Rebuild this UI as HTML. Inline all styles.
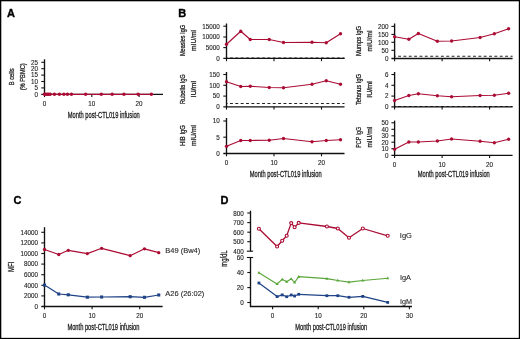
<!DOCTYPE html>
<html><head><meta charset="utf-8"><style>
html,body{margin:0;padding:0;background:#fff;}
body{width:520px;height:339px;overflow:hidden;position:relative;}
svg{position:absolute;left:0;top:0;will-change:transform;}
text{font-family:"Liberation Sans", sans-serif;}
</style></head><body>
<svg width="520" height="339" viewBox="0 0 520 339">
<rect x="0" y="0" width="520" height="1.3" fill="#000"/><rect x="0" y="0" width="1.3" height="339" fill="#000"/><rect x="518.8" y="0" width="1.2" height="339" fill="#000"/><rect x="0" y="337.85" width="520" height="1.15" fill="#000"/>
<text x="7.00" y="16.80" font-size="11" text-anchor="start" font-weight="bold" fill="#000" stroke="#000" stroke-width="0.35">A</text>
<text x="178.30" y="17.10" font-size="11" text-anchor="start" font-weight="bold" fill="#000" stroke="#000" stroke-width="0.35">B</text>
<text x="13.60" y="204.20" font-size="11" text-anchor="start" font-weight="bold" fill="#000" stroke="#000" stroke-width="0.35">C</text>
<text x="220.40" y="204.20" font-size="11" text-anchor="start" font-weight="bold" fill="#000" stroke="#000" stroke-width="0.35">D</text>
<line x1="44.50" y1="59.30" x2="44.50" y2="94.90" stroke="#111" stroke-width="1.35"/>
<line x1="41.30" y1="94.30" x2="163.00" y2="94.30" stroke="#111" stroke-width="1.35"/>
<line x1="41.30" y1="87.90" x2="44.50" y2="87.90" stroke="#111" stroke-width="1.1"/>
<text x="38.10" y="90.24" font-size="6.6" text-anchor="end" font-weight="normal" fill="#1e1e1e" textLength="3.50" lengthAdjust="spacingAndGlyphs" stroke="#1e1e1e" stroke-width="0.12">5</text>
<line x1="41.30" y1="81.50" x2="44.50" y2="81.50" stroke="#111" stroke-width="1.1"/>
<text x="38.10" y="83.84" font-size="6.6" text-anchor="end" font-weight="normal" fill="#1e1e1e" textLength="7.00" lengthAdjust="spacingAndGlyphs" stroke="#1e1e1e" stroke-width="0.12">10</text>
<line x1="41.30" y1="75.10" x2="44.50" y2="75.10" stroke="#111" stroke-width="1.1"/>
<text x="38.10" y="77.44" font-size="6.6" text-anchor="end" font-weight="normal" fill="#1e1e1e" textLength="7.00" lengthAdjust="spacingAndGlyphs" stroke="#1e1e1e" stroke-width="0.12">15</text>
<line x1="41.30" y1="68.70" x2="44.50" y2="68.70" stroke="#111" stroke-width="1.1"/>
<text x="38.10" y="71.04" font-size="6.6" text-anchor="end" font-weight="normal" fill="#1e1e1e" textLength="7.00" lengthAdjust="spacingAndGlyphs" stroke="#1e1e1e" stroke-width="0.12">20</text>
<line x1="41.30" y1="62.30" x2="44.50" y2="62.30" stroke="#111" stroke-width="1.1"/>
<text x="38.10" y="64.64" font-size="6.6" text-anchor="end" font-weight="normal" fill="#1e1e1e" textLength="7.00" lengthAdjust="spacingAndGlyphs" stroke="#1e1e1e" stroke-width="0.12">25</text>
<text x="38.10" y="96.64" font-size="6.6" text-anchor="end" font-weight="normal" fill="#1e1e1e" textLength="3.50" lengthAdjust="spacingAndGlyphs" stroke="#1e1e1e" stroke-width="0.12">0</text>
<line x1="44.50" y1="94.30" x2="44.50" y2="97.10" stroke="#111" stroke-width="1.1"/>
<text x="44.50" y="106.20" font-size="6.6" text-anchor="middle" font-weight="normal" fill="#1e1e1e" textLength="3.50" lengthAdjust="spacingAndGlyphs" stroke="#1e1e1e" stroke-width="0.12">0</text>
<line x1="91.80" y1="94.30" x2="91.80" y2="97.10" stroke="#111" stroke-width="1.1"/>
<text x="91.80" y="106.20" font-size="6.6" text-anchor="middle" font-weight="normal" fill="#1e1e1e" textLength="7.00" lengthAdjust="spacingAndGlyphs" stroke="#1e1e1e" stroke-width="0.12">10</text>
<line x1="139.10" y1="94.30" x2="139.10" y2="97.10" stroke="#111" stroke-width="1.1"/>
<text x="139.10" y="106.20" font-size="6.6" text-anchor="middle" font-weight="normal" fill="#1e1e1e" textLength="7.00" lengthAdjust="spacingAndGlyphs" stroke="#1e1e1e" stroke-width="0.12">20</text>
<text x="103.80" y="118.20" font-size="8.4" text-anchor="middle" font-weight="normal" fill="#1e1e1e" textLength="72.00" lengthAdjust="spacingAndGlyphs" stroke="#1e1e1e" stroke-width="0.28">Month post-CTL019 infusion</text>
<text transform="translate(14.40,76.80) rotate(-90)" font-size="8.0" text-anchor="middle" font-weight="normal" fill="#1e1e1e" textLength="17.00" lengthAdjust="spacingAndGlyphs" stroke="#1e1e1e" stroke-width="0.28">B cells</text>
<text transform="translate(25.40,76.80) rotate(-90)" font-size="8.0" text-anchor="middle" font-weight="normal" fill="#1e1e1e" textLength="27.00" lengthAdjust="spacingAndGlyphs" stroke="#1e1e1e" stroke-width="0.28">(% PBMC)</text>
<line x1="44.50" y1="94.30" x2="151.87" y2="94.30" stroke="#ab0c34" stroke-width="1.35"/>
<circle cx="44.50" cy="94.30" r="1.75" fill="#ab0c34"/>
<circle cx="45.92" cy="94.30" r="1.75" fill="#ab0c34"/>
<circle cx="47.34" cy="94.30" r="1.75" fill="#ab0c34"/>
<circle cx="48.76" cy="94.30" r="1.75" fill="#ab0c34"/>
<circle cx="50.18" cy="94.30" r="1.75" fill="#ab0c34"/>
<circle cx="54.43" cy="94.30" r="1.75" fill="#ab0c34"/>
<circle cx="59.40" cy="94.30" r="1.75" fill="#ab0c34"/>
<circle cx="63.89" cy="94.30" r="1.75" fill="#ab0c34"/>
<circle cx="67.44" cy="94.30" r="1.75" fill="#ab0c34"/>
<circle cx="71.46" cy="94.30" r="1.75" fill="#ab0c34"/>
<circle cx="85.65" cy="94.30" r="1.75" fill="#ab0c34"/>
<circle cx="101.26" cy="94.30" r="1.75" fill="#ab0c34"/>
<circle cx="112.14" cy="94.30" r="1.75" fill="#ab0c34"/>
<circle cx="123.96" cy="94.30" r="1.75" fill="#ab0c34"/>
<circle cx="138.15" cy="94.30" r="1.75" fill="#ab0c34"/>
<circle cx="151.40" cy="94.30" r="1.75" fill="#ab0c34"/>
<line x1="226.50" y1="58.10" x2="344.50" y2="58.10" stroke="#222" stroke-width="1.05" stroke-dasharray="2.9,2.45" stroke-dashoffset="1.85"/>
<line x1="226.50" y1="23.50" x2="226.50" y2="59.00" stroke="#111" stroke-width="1.35"/>
<line x1="223.30" y1="26.20" x2="226.50" y2="26.20" stroke="#111" stroke-width="1.1"/>
<text x="219.80" y="28.54" font-size="6.6" text-anchor="end" font-weight="normal" fill="#1e1e1e" textLength="17.50" lengthAdjust="spacingAndGlyphs" stroke="#1e1e1e" stroke-width="0.12">15000</text>
<line x1="223.30" y1="37.00" x2="226.50" y2="37.00" stroke="#111" stroke-width="1.1"/>
<text x="219.80" y="39.34" font-size="6.6" text-anchor="end" font-weight="normal" fill="#1e1e1e" textLength="17.50" lengthAdjust="spacingAndGlyphs" stroke="#1e1e1e" stroke-width="0.12">10000</text>
<line x1="223.30" y1="47.60" x2="226.50" y2="47.60" stroke="#111" stroke-width="1.1"/>
<text x="219.80" y="49.94" font-size="6.6" text-anchor="end" font-weight="normal" fill="#1e1e1e" textLength="14.00" lengthAdjust="spacingAndGlyphs" stroke="#1e1e1e" stroke-width="0.12">5000</text>
<text x="219.80" y="60.74" font-size="6.6" text-anchor="end" font-weight="normal" fill="#1e1e1e" textLength="3.50" lengthAdjust="spacingAndGlyphs" stroke="#1e1e1e" stroke-width="0.12">0</text>
<line x1="223.30" y1="58.40" x2="344.50" y2="58.40" stroke="#111" stroke-width="1.35"/>
<line x1="226.50" y1="58.40" x2="226.50" y2="61.20" stroke="#111" stroke-width="1.1"/>
<line x1="274.00" y1="58.40" x2="274.00" y2="61.20" stroke="#111" stroke-width="1.1"/>
<line x1="321.50" y1="58.40" x2="321.50" y2="61.20" stroke="#111" stroke-width="1.1"/>
<polyline points="226.50,44.25 240.75,31.25 250.25,39.50 269.25,39.50 283.50,42.50 312.00,42.25 326.25,42.75 340.50,33.75" fill="none" stroke="#ab0c34" stroke-width="1.2" stroke-linejoin="round"/>
<circle cx="226.50" cy="44.25" r="1.65" fill="#ab0c34"/>
<circle cx="240.75" cy="31.25" r="1.65" fill="#ab0c34"/>
<circle cx="250.25" cy="39.50" r="1.65" fill="#ab0c34"/>
<circle cx="269.25" cy="39.50" r="1.65" fill="#ab0c34"/>
<circle cx="283.50" cy="42.50" r="1.65" fill="#ab0c34"/>
<circle cx="312.00" cy="42.25" r="1.65" fill="#ab0c34"/>
<circle cx="326.25" cy="42.75" r="1.65" fill="#ab0c34"/>
<circle cx="340.50" cy="33.75" r="1.65" fill="#ab0c34"/>
<text transform="translate(184.70,40.50) rotate(-90)" font-size="7.1" text-anchor="middle" font-weight="normal" fill="#1e1e1e" textLength="31.10" lengthAdjust="spacingAndGlyphs" stroke="#1e1e1e" stroke-width="0.28">Measles IgG</text>
<text transform="translate(196.40,40.50) rotate(-90)" font-size="7.1" text-anchor="middle" font-weight="normal" fill="#1e1e1e" textLength="20.80" lengthAdjust="spacingAndGlyphs" stroke="#1e1e1e" stroke-width="0.28">mIU/ml</text>
<line x1="226.50" y1="103.50" x2="344.50" y2="103.50" stroke="#222" stroke-width="1.05" stroke-dasharray="2.9,2.45" stroke-dashoffset="1.85"/>
<line x1="226.50" y1="72.00" x2="226.50" y2="107.40" stroke="#111" stroke-width="1.35"/>
<line x1="223.30" y1="74.50" x2="226.50" y2="74.50" stroke="#111" stroke-width="1.1"/>
<text x="219.80" y="76.84" font-size="6.6" text-anchor="end" font-weight="normal" fill="#1e1e1e" textLength="10.50" lengthAdjust="spacingAndGlyphs" stroke="#1e1e1e" stroke-width="0.12">150</text>
<line x1="223.30" y1="85.30" x2="226.50" y2="85.30" stroke="#111" stroke-width="1.1"/>
<text x="219.80" y="87.64" font-size="6.6" text-anchor="end" font-weight="normal" fill="#1e1e1e" textLength="10.50" lengthAdjust="spacingAndGlyphs" stroke="#1e1e1e" stroke-width="0.12">100</text>
<line x1="223.30" y1="96.10" x2="226.50" y2="96.10" stroke="#111" stroke-width="1.1"/>
<text x="219.80" y="98.44" font-size="6.6" text-anchor="end" font-weight="normal" fill="#1e1e1e" textLength="7.00" lengthAdjust="spacingAndGlyphs" stroke="#1e1e1e" stroke-width="0.12">50</text>
<text x="219.80" y="109.14" font-size="6.6" text-anchor="end" font-weight="normal" fill="#1e1e1e" textLength="3.50" lengthAdjust="spacingAndGlyphs" stroke="#1e1e1e" stroke-width="0.12">0</text>
<line x1="223.30" y1="106.80" x2="344.50" y2="106.80" stroke="#111" stroke-width="1.35"/>
<line x1="226.50" y1="106.80" x2="226.50" y2="109.60" stroke="#111" stroke-width="1.1"/>
<line x1="274.00" y1="106.80" x2="274.00" y2="109.60" stroke="#111" stroke-width="1.1"/>
<line x1="321.50" y1="106.80" x2="321.50" y2="109.60" stroke="#111" stroke-width="1.1"/>
<polyline points="226.50,81.75 240.75,86.50 250.25,86.25 269.25,87.50 283.50,87.75 312.00,84.25 326.25,80.75 340.50,84.25" fill="none" stroke="#ab0c34" stroke-width="1.2" stroke-linejoin="round"/>
<circle cx="226.50" cy="81.75" r="1.65" fill="#ab0c34"/>
<circle cx="240.75" cy="86.50" r="1.65" fill="#ab0c34"/>
<circle cx="250.25" cy="86.25" r="1.65" fill="#ab0c34"/>
<circle cx="269.25" cy="87.50" r="1.65" fill="#ab0c34"/>
<circle cx="283.50" cy="87.75" r="1.65" fill="#ab0c34"/>
<circle cx="312.00" cy="84.25" r="1.65" fill="#ab0c34"/>
<circle cx="326.25" cy="80.75" r="1.65" fill="#ab0c34"/>
<circle cx="340.50" cy="84.25" r="1.65" fill="#ab0c34"/>
<text transform="translate(184.70,89.20) rotate(-90)" font-size="7.1" text-anchor="middle" font-weight="normal" fill="#1e1e1e" textLength="29.70" lengthAdjust="spacingAndGlyphs" stroke="#1e1e1e" stroke-width="0.28">Rubella IgG</text>
<text transform="translate(195.80,89.20) rotate(-90)" font-size="7.1" text-anchor="middle" font-weight="normal" fill="#1e1e1e" textLength="16.60" lengthAdjust="spacingAndGlyphs" stroke="#1e1e1e" stroke-width="0.28">IU/ml</text>
<line x1="226.50" y1="118.00" x2="226.50" y2="154.10" stroke="#111" stroke-width="1.35"/>
<line x1="223.30" y1="121.00" x2="226.50" y2="121.00" stroke="#111" stroke-width="1.1"/>
<text x="219.80" y="123.34" font-size="6.6" text-anchor="end" font-weight="normal" fill="#1e1e1e" textLength="7.00" lengthAdjust="spacingAndGlyphs" stroke="#1e1e1e" stroke-width="0.12">10</text>
<line x1="223.30" y1="137.20" x2="226.50" y2="137.20" stroke="#111" stroke-width="1.1"/>
<text x="219.80" y="139.54" font-size="6.6" text-anchor="end" font-weight="normal" fill="#1e1e1e" textLength="3.50" lengthAdjust="spacingAndGlyphs" stroke="#1e1e1e" stroke-width="0.12">5</text>
<text x="219.80" y="155.84" font-size="6.6" text-anchor="end" font-weight="normal" fill="#1e1e1e" textLength="3.50" lengthAdjust="spacingAndGlyphs" stroke="#1e1e1e" stroke-width="0.12">0</text>
<line x1="223.30" y1="153.50" x2="344.50" y2="153.50" stroke="#111" stroke-width="1.35"/>
<line x1="226.50" y1="153.50" x2="226.50" y2="156.30" stroke="#111" stroke-width="1.1"/>
<text x="226.50" y="164.80" font-size="6.6" text-anchor="middle" font-weight="normal" fill="#1e1e1e" textLength="3.50" lengthAdjust="spacingAndGlyphs" stroke="#1e1e1e" stroke-width="0.12">0</text>
<line x1="274.00" y1="153.50" x2="274.00" y2="156.30" stroke="#111" stroke-width="1.1"/>
<text x="274.00" y="164.80" font-size="6.6" text-anchor="middle" font-weight="normal" fill="#1e1e1e" textLength="7.00" lengthAdjust="spacingAndGlyphs" stroke="#1e1e1e" stroke-width="0.12">10</text>
<line x1="321.50" y1="153.50" x2="321.50" y2="156.30" stroke="#111" stroke-width="1.1"/>
<text x="321.50" y="164.80" font-size="6.6" text-anchor="middle" font-weight="normal" fill="#1e1e1e" textLength="7.00" lengthAdjust="spacingAndGlyphs" stroke="#1e1e1e" stroke-width="0.12">20</text>
<polyline points="226.50,146.30 240.75,140.50 250.25,140.50 269.25,140.25 283.50,138.50 312.00,141.75 326.25,140.50 340.50,139.75" fill="none" stroke="#ab0c34" stroke-width="1.2" stroke-linejoin="round"/>
<circle cx="226.50" cy="146.30" r="1.65" fill="#ab0c34"/>
<circle cx="240.75" cy="140.50" r="1.65" fill="#ab0c34"/>
<circle cx="250.25" cy="140.50" r="1.65" fill="#ab0c34"/>
<circle cx="269.25" cy="140.25" r="1.65" fill="#ab0c34"/>
<circle cx="283.50" cy="138.50" r="1.65" fill="#ab0c34"/>
<circle cx="312.00" cy="141.75" r="1.65" fill="#ab0c34"/>
<circle cx="326.25" cy="140.50" r="1.65" fill="#ab0c34"/>
<circle cx="340.50" cy="139.75" r="1.65" fill="#ab0c34"/>
<text transform="translate(184.80,135.60) rotate(-90)" font-size="7.1" text-anchor="middle" font-weight="normal" fill="#1e1e1e" textLength="20.90" lengthAdjust="spacingAndGlyphs" stroke="#1e1e1e" stroke-width="0.28">HIB IgG</text>
<text transform="translate(196.00,135.60) rotate(-90)" font-size="7.1" text-anchor="middle" font-weight="normal" fill="#1e1e1e" textLength="21.00" lengthAdjust="spacingAndGlyphs" stroke="#1e1e1e" stroke-width="0.28">mIU/ml</text>
<text x="285.70" y="177.00" font-size="8.4" text-anchor="middle" font-weight="normal" fill="#1e1e1e" textLength="72.00" lengthAdjust="spacingAndGlyphs" stroke="#1e1e1e" stroke-width="0.28">Month post-CTL019 infusion</text>
<line x1="394.60" y1="56.20" x2="512.60" y2="56.20" stroke="#222" stroke-width="1.05" stroke-dasharray="2.9,2.45" stroke-dashoffset="1.85"/>
<line x1="394.60" y1="23.50" x2="394.60" y2="59.10" stroke="#111" stroke-width="1.35"/>
<line x1="391.40" y1="26.40" x2="394.60" y2="26.40" stroke="#111" stroke-width="1.1"/>
<text x="388.40" y="28.74" font-size="6.6" text-anchor="end" font-weight="normal" fill="#1e1e1e" textLength="10.50" lengthAdjust="spacingAndGlyphs" stroke="#1e1e1e" stroke-width="0.12">200</text>
<line x1="391.40" y1="34.40" x2="394.60" y2="34.40" stroke="#111" stroke-width="1.1"/>
<text x="388.40" y="36.74" font-size="6.6" text-anchor="end" font-weight="normal" fill="#1e1e1e" textLength="10.50" lengthAdjust="spacingAndGlyphs" stroke="#1e1e1e" stroke-width="0.12">150</text>
<line x1="391.40" y1="42.30" x2="394.60" y2="42.30" stroke="#111" stroke-width="1.1"/>
<text x="388.40" y="44.64" font-size="6.6" text-anchor="end" font-weight="normal" fill="#1e1e1e" textLength="10.50" lengthAdjust="spacingAndGlyphs" stroke="#1e1e1e" stroke-width="0.12">100</text>
<line x1="391.40" y1="50.30" x2="394.60" y2="50.30" stroke="#111" stroke-width="1.1"/>
<text x="388.40" y="52.64" font-size="6.6" text-anchor="end" font-weight="normal" fill="#1e1e1e" textLength="7.00" lengthAdjust="spacingAndGlyphs" stroke="#1e1e1e" stroke-width="0.12">50</text>
<text x="388.40" y="60.84" font-size="6.6" text-anchor="end" font-weight="normal" fill="#1e1e1e" textLength="3.50" lengthAdjust="spacingAndGlyphs" stroke="#1e1e1e" stroke-width="0.12">0</text>
<line x1="391.40" y1="58.50" x2="512.60" y2="58.50" stroke="#111" stroke-width="1.35"/>
<line x1="394.60" y1="58.50" x2="394.60" y2="61.30" stroke="#111" stroke-width="1.1"/>
<line x1="442.10" y1="58.50" x2="442.10" y2="61.30" stroke="#111" stroke-width="1.1"/>
<line x1="489.60" y1="58.50" x2="489.60" y2="61.30" stroke="#111" stroke-width="1.1"/>
<polyline points="394.60,36.75 408.85,39.25 418.35,33.50 437.35,41.25 451.60,41.00 480.10,37.50 494.35,33.75 508.60,28.75" fill="none" stroke="#ab0c34" stroke-width="1.2" stroke-linejoin="round"/>
<circle cx="394.60" cy="36.75" r="1.65" fill="#ab0c34"/>
<circle cx="408.85" cy="39.25" r="1.65" fill="#ab0c34"/>
<circle cx="418.35" cy="33.50" r="1.65" fill="#ab0c34"/>
<circle cx="437.35" cy="41.25" r="1.65" fill="#ab0c34"/>
<circle cx="451.60" cy="41.00" r="1.65" fill="#ab0c34"/>
<circle cx="480.10" cy="37.50" r="1.65" fill="#ab0c34"/>
<circle cx="494.35" cy="33.75" r="1.65" fill="#ab0c34"/>
<circle cx="508.60" cy="28.75" r="1.65" fill="#ab0c34"/>
<text transform="translate(360.90,41.00) rotate(-90)" font-size="7.1" text-anchor="middle" font-weight="normal" fill="#1e1e1e" textLength="30.10" lengthAdjust="spacingAndGlyphs" stroke="#1e1e1e" stroke-width="0.28">Mumps IgG</text>
<text transform="translate(371.90,41.00) rotate(-90)" font-size="7.1" text-anchor="middle" font-weight="normal" fill="#1e1e1e" textLength="20.80" lengthAdjust="spacingAndGlyphs" stroke="#1e1e1e" stroke-width="0.28">mIU/ml</text>
<line x1="394.60" y1="106.40" x2="512.60" y2="106.40" stroke="#222" stroke-width="1.05" stroke-dasharray="2.9,2.45" stroke-dashoffset="1.85"/>
<line x1="394.60" y1="72.00" x2="394.60" y2="107.40" stroke="#111" stroke-width="1.35"/>
<line x1="391.40" y1="74.50" x2="394.60" y2="74.50" stroke="#111" stroke-width="1.1"/>
<text x="388.40" y="76.84" font-size="6.6" text-anchor="end" font-weight="normal" fill="#1e1e1e" textLength="3.50" lengthAdjust="spacingAndGlyphs" stroke="#1e1e1e" stroke-width="0.12">6</text>
<line x1="391.40" y1="85.30" x2="394.60" y2="85.30" stroke="#111" stroke-width="1.1"/>
<text x="388.40" y="87.64" font-size="6.6" text-anchor="end" font-weight="normal" fill="#1e1e1e" textLength="3.50" lengthAdjust="spacingAndGlyphs" stroke="#1e1e1e" stroke-width="0.12">4</text>
<line x1="391.40" y1="96.10" x2="394.60" y2="96.10" stroke="#111" stroke-width="1.1"/>
<text x="388.40" y="98.44" font-size="6.6" text-anchor="end" font-weight="normal" fill="#1e1e1e" textLength="3.50" lengthAdjust="spacingAndGlyphs" stroke="#1e1e1e" stroke-width="0.12">2</text>
<text x="388.40" y="109.14" font-size="6.6" text-anchor="end" font-weight="normal" fill="#1e1e1e" textLength="3.50" lengthAdjust="spacingAndGlyphs" stroke="#1e1e1e" stroke-width="0.12">0</text>
<line x1="391.40" y1="106.80" x2="512.60" y2="106.80" stroke="#111" stroke-width="1.35"/>
<line x1="394.60" y1="106.80" x2="394.60" y2="109.60" stroke="#111" stroke-width="1.1"/>
<line x1="442.10" y1="106.80" x2="442.10" y2="109.60" stroke="#111" stroke-width="1.1"/>
<line x1="489.60" y1="106.80" x2="489.60" y2="109.60" stroke="#111" stroke-width="1.1"/>
<polyline points="394.60,100.50 408.85,95.50 418.35,93.75 437.35,95.75 451.60,96.75 480.10,95.50 494.35,95.25 508.60,93.25" fill="none" stroke="#ab0c34" stroke-width="1.2" stroke-linejoin="round"/>
<circle cx="394.60" cy="100.50" r="1.65" fill="#ab0c34"/>
<circle cx="408.85" cy="95.50" r="1.65" fill="#ab0c34"/>
<circle cx="418.35" cy="93.75" r="1.65" fill="#ab0c34"/>
<circle cx="437.35" cy="95.75" r="1.65" fill="#ab0c34"/>
<circle cx="451.60" cy="96.75" r="1.65" fill="#ab0c34"/>
<circle cx="480.10" cy="95.50" r="1.65" fill="#ab0c34"/>
<circle cx="494.35" cy="95.25" r="1.65" fill="#ab0c34"/>
<circle cx="508.60" cy="93.25" r="1.65" fill="#ab0c34"/>
<text transform="translate(360.60,89.50) rotate(-90)" font-size="7.1" text-anchor="middle" font-weight="normal" fill="#1e1e1e" textLength="31.10" lengthAdjust="spacingAndGlyphs" stroke="#1e1e1e" stroke-width="0.28">Tetanus IgG</text>
<text transform="translate(371.60,89.50) rotate(-90)" font-size="7.1" text-anchor="middle" font-weight="normal" fill="#1e1e1e" textLength="16.60" lengthAdjust="spacingAndGlyphs" stroke="#1e1e1e" stroke-width="0.28">IU/ml</text>
<line x1="394.60" y1="120.60" x2="394.60" y2="155.90" stroke="#111" stroke-width="1.35"/>
<line x1="391.40" y1="122.80" x2="394.60" y2="122.80" stroke="#111" stroke-width="1.1"/>
<text x="388.40" y="125.14" font-size="6.6" text-anchor="end" font-weight="normal" fill="#1e1e1e" textLength="7.00" lengthAdjust="spacingAndGlyphs" stroke="#1e1e1e" stroke-width="0.12">50</text>
<line x1="391.40" y1="129.30" x2="394.60" y2="129.30" stroke="#111" stroke-width="1.1"/>
<text x="388.40" y="131.64" font-size="6.6" text-anchor="end" font-weight="normal" fill="#1e1e1e" textLength="7.00" lengthAdjust="spacingAndGlyphs" stroke="#1e1e1e" stroke-width="0.12">40</text>
<line x1="391.40" y1="135.80" x2="394.60" y2="135.80" stroke="#111" stroke-width="1.1"/>
<text x="388.40" y="138.14" font-size="6.6" text-anchor="end" font-weight="normal" fill="#1e1e1e" textLength="7.00" lengthAdjust="spacingAndGlyphs" stroke="#1e1e1e" stroke-width="0.12">30</text>
<line x1="391.40" y1="142.20" x2="394.60" y2="142.20" stroke="#111" stroke-width="1.1"/>
<text x="388.40" y="144.54" font-size="6.6" text-anchor="end" font-weight="normal" fill="#1e1e1e" textLength="7.00" lengthAdjust="spacingAndGlyphs" stroke="#1e1e1e" stroke-width="0.12">20</text>
<line x1="391.40" y1="148.70" x2="394.60" y2="148.70" stroke="#111" stroke-width="1.1"/>
<text x="388.40" y="151.04" font-size="6.6" text-anchor="end" font-weight="normal" fill="#1e1e1e" textLength="7.00" lengthAdjust="spacingAndGlyphs" stroke="#1e1e1e" stroke-width="0.12">10</text>
<text x="388.40" y="157.64" font-size="6.6" text-anchor="end" font-weight="normal" fill="#1e1e1e" textLength="3.50" lengthAdjust="spacingAndGlyphs" stroke="#1e1e1e" stroke-width="0.12">0</text>
<line x1="391.40" y1="155.30" x2="512.60" y2="155.30" stroke="#111" stroke-width="1.35"/>
<line x1="394.60" y1="155.30" x2="394.60" y2="158.10" stroke="#111" stroke-width="1.1"/>
<text x="394.60" y="166.60" font-size="6.6" text-anchor="middle" font-weight="normal" fill="#1e1e1e" textLength="3.50" lengthAdjust="spacingAndGlyphs" stroke="#1e1e1e" stroke-width="0.12">0</text>
<line x1="442.10" y1="155.30" x2="442.10" y2="158.10" stroke="#111" stroke-width="1.1"/>
<text x="442.10" y="166.60" font-size="6.6" text-anchor="middle" font-weight="normal" fill="#1e1e1e" textLength="7.00" lengthAdjust="spacingAndGlyphs" stroke="#1e1e1e" stroke-width="0.12">10</text>
<line x1="489.60" y1="155.30" x2="489.60" y2="158.10" stroke="#111" stroke-width="1.1"/>
<text x="489.60" y="166.60" font-size="6.6" text-anchor="middle" font-weight="normal" fill="#1e1e1e" textLength="7.00" lengthAdjust="spacingAndGlyphs" stroke="#1e1e1e" stroke-width="0.12">20</text>
<polyline points="394.60,149.25 408.85,142.00 418.35,142.00 437.35,141.00 451.60,139.00 480.10,141.25 494.35,142.75 508.60,139.25" fill="none" stroke="#ab0c34" stroke-width="1.2" stroke-linejoin="round"/>
<circle cx="394.60" cy="149.25" r="1.65" fill="#ab0c34"/>
<circle cx="408.85" cy="142.00" r="1.65" fill="#ab0c34"/>
<circle cx="418.35" cy="142.00" r="1.65" fill="#ab0c34"/>
<circle cx="437.35" cy="141.00" r="1.65" fill="#ab0c34"/>
<circle cx="451.60" cy="139.00" r="1.65" fill="#ab0c34"/>
<circle cx="480.10" cy="141.25" r="1.65" fill="#ab0c34"/>
<circle cx="494.35" cy="142.75" r="1.65" fill="#ab0c34"/>
<circle cx="508.60" cy="139.25" r="1.65" fill="#ab0c34"/>
<text transform="translate(361.00,137.30) rotate(-90)" font-size="7.1" text-anchor="middle" font-weight="normal" fill="#1e1e1e" textLength="20.90" lengthAdjust="spacingAndGlyphs" stroke="#1e1e1e" stroke-width="0.28">PCP IgG</text>
<text transform="translate(371.60,137.30) rotate(-90)" font-size="7.1" text-anchor="middle" font-weight="normal" fill="#1e1e1e" textLength="20.60" lengthAdjust="spacingAndGlyphs" stroke="#1e1e1e" stroke-width="0.28">mIU/ml</text>
<text x="453.80" y="177.00" font-size="8.4" text-anchor="middle" font-weight="normal" fill="#1e1e1e" textLength="72.00" lengthAdjust="spacingAndGlyphs" stroke="#1e1e1e" stroke-width="0.28">Month post-CTL019 infusion</text>
<line x1="44.50" y1="227.20" x2="44.50" y2="307.10" stroke="#111" stroke-width="1.35"/>
<line x1="41.30" y1="295.90" x2="44.50" y2="295.90" stroke="#111" stroke-width="1.1"/>
<text x="37.90" y="298.24" font-size="6.6" text-anchor="end" font-weight="normal" fill="#1e1e1e" textLength="14.00" lengthAdjust="spacingAndGlyphs" stroke="#1e1e1e" stroke-width="0.12">2000</text>
<line x1="41.30" y1="285.30" x2="44.50" y2="285.30" stroke="#111" stroke-width="1.1"/>
<text x="37.90" y="287.64" font-size="6.6" text-anchor="end" font-weight="normal" fill="#1e1e1e" textLength="14.00" lengthAdjust="spacingAndGlyphs" stroke="#1e1e1e" stroke-width="0.12">4000</text>
<line x1="41.30" y1="274.70" x2="44.50" y2="274.70" stroke="#111" stroke-width="1.1"/>
<text x="37.90" y="277.04" font-size="6.6" text-anchor="end" font-weight="normal" fill="#1e1e1e" textLength="14.00" lengthAdjust="spacingAndGlyphs" stroke="#1e1e1e" stroke-width="0.12">6000</text>
<line x1="41.30" y1="264.10" x2="44.50" y2="264.10" stroke="#111" stroke-width="1.1"/>
<text x="37.90" y="266.44" font-size="6.6" text-anchor="end" font-weight="normal" fill="#1e1e1e" textLength="14.00" lengthAdjust="spacingAndGlyphs" stroke="#1e1e1e" stroke-width="0.12">8000</text>
<line x1="41.30" y1="253.50" x2="44.50" y2="253.50" stroke="#111" stroke-width="1.1"/>
<text x="37.90" y="255.84" font-size="6.6" text-anchor="end" font-weight="normal" fill="#1e1e1e" textLength="17.50" lengthAdjust="spacingAndGlyphs" stroke="#1e1e1e" stroke-width="0.12">10000</text>
<line x1="41.30" y1="242.90" x2="44.50" y2="242.90" stroke="#111" stroke-width="1.1"/>
<text x="37.90" y="245.24" font-size="6.6" text-anchor="end" font-weight="normal" fill="#1e1e1e" textLength="17.50" lengthAdjust="spacingAndGlyphs" stroke="#1e1e1e" stroke-width="0.12">12000</text>
<line x1="41.30" y1="232.30" x2="44.50" y2="232.30" stroke="#111" stroke-width="1.1"/>
<text x="37.90" y="234.64" font-size="6.6" text-anchor="end" font-weight="normal" fill="#1e1e1e" textLength="17.50" lengthAdjust="spacingAndGlyphs" stroke="#1e1e1e" stroke-width="0.12">14000</text>
<text x="37.90" y="308.84" font-size="6.6" text-anchor="end" font-weight="normal" fill="#1e1e1e" textLength="3.50" lengthAdjust="spacingAndGlyphs" stroke="#1e1e1e" stroke-width="0.12">0</text>
<line x1="41.30" y1="306.50" x2="162.60" y2="306.50" stroke="#111" stroke-width="1.35"/>
<line x1="44.50" y1="306.50" x2="44.50" y2="309.30" stroke="#111" stroke-width="1.1"/>
<text x="44.50" y="318.00" font-size="6.6" text-anchor="middle" font-weight="normal" fill="#1e1e1e" textLength="3.50" lengthAdjust="spacingAndGlyphs" stroke="#1e1e1e" stroke-width="0.12">0</text>
<line x1="92.10" y1="306.50" x2="92.10" y2="309.30" stroke="#111" stroke-width="1.1"/>
<text x="92.10" y="318.00" font-size="6.6" text-anchor="middle" font-weight="normal" fill="#1e1e1e" textLength="7.00" lengthAdjust="spacingAndGlyphs" stroke="#1e1e1e" stroke-width="0.12">10</text>
<line x1="139.70" y1="306.50" x2="139.70" y2="309.30" stroke="#111" stroke-width="1.1"/>
<text x="139.70" y="318.00" font-size="6.6" text-anchor="middle" font-weight="normal" fill="#1e1e1e" textLength="7.00" lengthAdjust="spacingAndGlyphs" stroke="#1e1e1e" stroke-width="0.12">20</text>
<text x="103.40" y="329.90" font-size="8.4" text-anchor="middle" font-weight="normal" fill="#1e1e1e" textLength="72.00" lengthAdjust="spacingAndGlyphs" stroke="#1e1e1e" stroke-width="0.28">Month post-CTL019 infusion</text>
<text transform="translate(14.00,266.90) rotate(-90)" font-size="8.4" text-anchor="middle" font-weight="normal" fill="#1e1e1e" textLength="10.20" lengthAdjust="spacingAndGlyphs" stroke="#1e1e1e" stroke-width="0.28">MFI</text>
<polyline points="44.50,249.50 58.78,254.50 68.30,250.30 87.34,253.60 101.62,248.30 130.18,255.70 144.46,248.80 158.74,252.70" fill="none" stroke="#ab0c34" stroke-width="1.2" stroke-linejoin="round"/>
<circle cx="44.50" cy="249.50" r="1.65" fill="#ab0c34"/>
<circle cx="58.78" cy="254.50" r="1.65" fill="#ab0c34"/>
<circle cx="68.30" cy="250.30" r="1.65" fill="#ab0c34"/>
<circle cx="87.34" cy="253.60" r="1.65" fill="#ab0c34"/>
<circle cx="101.62" cy="248.30" r="1.65" fill="#ab0c34"/>
<circle cx="130.18" cy="255.70" r="1.65" fill="#ab0c34"/>
<circle cx="144.46" cy="248.80" r="1.65" fill="#ab0c34"/>
<circle cx="158.74" cy="252.70" r="1.65" fill="#ab0c34"/>
<polyline points="44.50,285.10 58.78,294.00 68.30,294.80 87.34,297.20 101.62,297.00 130.18,296.70 144.46,297.30 158.74,295.00" fill="none" stroke="#1f4386" stroke-width="1.2" stroke-linejoin="round"/>
<rect x="42.95" y="283.55" width="3.1" height="3.1" fill="#1f4386"/>
<rect x="57.23" y="292.45" width="3.1" height="3.1" fill="#1f4386"/>
<rect x="66.75" y="293.25" width="3.1" height="3.1" fill="#1f4386"/>
<rect x="85.79" y="295.65" width="3.1" height="3.1" fill="#1f4386"/>
<rect x="100.07" y="295.45" width="3.1" height="3.1" fill="#1f4386"/>
<rect x="128.63" y="295.15" width="3.1" height="3.1" fill="#1f4386"/>
<rect x="142.91" y="295.75" width="3.1" height="3.1" fill="#1f4386"/>
<rect x="157.19" y="293.45" width="3.1" height="3.1" fill="#1f4386"/>
<text x="165.30" y="253.20" font-size="7.4" text-anchor="start" font-weight="normal" fill="#1e1e1e" textLength="35.00" lengthAdjust="spacingAndGlyphs" stroke="#1e1e1e" stroke-width="0.1">B49 (Bw4)</text>
<text x="165.30" y="296.20" font-size="7.4" text-anchor="start" font-weight="normal" fill="#1e1e1e" textLength="39.00" lengthAdjust="spacingAndGlyphs" stroke="#1e1e1e" stroke-width="0.1">A26 (26:02)</text>
<line x1="250.50" y1="210.70" x2="250.50" y2="251.20" stroke="#111" stroke-width="1.35"/>
<line x1="250.50" y1="257.50" x2="250.50" y2="307.10" stroke="#111" stroke-width="1.35"/>
<line x1="247.30" y1="213.00" x2="250.50" y2="213.00" stroke="#111" stroke-width="1.1"/>
<text x="243.70" y="215.74" font-size="6.6" text-anchor="end" font-weight="normal" fill="#1e1e1e" textLength="10.50" lengthAdjust="spacingAndGlyphs" stroke="#1e1e1e" stroke-width="0.12">800</text>
<line x1="247.30" y1="222.60" x2="250.50" y2="222.60" stroke="#111" stroke-width="1.1"/>
<text x="243.70" y="225.34" font-size="6.6" text-anchor="end" font-weight="normal" fill="#1e1e1e" textLength="10.50" lengthAdjust="spacingAndGlyphs" stroke="#1e1e1e" stroke-width="0.12">700</text>
<line x1="247.30" y1="232.20" x2="250.50" y2="232.20" stroke="#111" stroke-width="1.1"/>
<text x="243.70" y="234.94" font-size="6.6" text-anchor="end" font-weight="normal" fill="#1e1e1e" textLength="10.50" lengthAdjust="spacingAndGlyphs" stroke="#1e1e1e" stroke-width="0.12">600</text>
<line x1="247.30" y1="241.70" x2="250.50" y2="241.70" stroke="#111" stroke-width="1.1"/>
<text x="243.70" y="244.44" font-size="6.6" text-anchor="end" font-weight="normal" fill="#1e1e1e" textLength="10.50" lengthAdjust="spacingAndGlyphs" stroke="#1e1e1e" stroke-width="0.12">500</text>
<line x1="246.90" y1="251.20" x2="253.10" y2="251.20" stroke="#111" stroke-width="1.1"/>
<text x="243.70" y="253.54" font-size="6.6" text-anchor="end" font-weight="normal" fill="#1e1e1e" textLength="10.50" lengthAdjust="spacingAndGlyphs" stroke="#1e1e1e" stroke-width="0.12">400</text>
<line x1="246.90" y1="257.50" x2="253.10" y2="257.50" stroke="#111" stroke-width="1.1"/>
<text x="243.70" y="259.84" font-size="6.6" text-anchor="end" font-weight="normal" fill="#1e1e1e" textLength="7.00" lengthAdjust="spacingAndGlyphs" stroke="#1e1e1e" stroke-width="0.12">60</text>
<line x1="247.30" y1="272.50" x2="250.50" y2="272.50" stroke="#111" stroke-width="1.1"/>
<text x="243.70" y="274.84" font-size="6.6" text-anchor="end" font-weight="normal" fill="#1e1e1e" textLength="7.00" lengthAdjust="spacingAndGlyphs" stroke="#1e1e1e" stroke-width="0.12">40</text>
<line x1="247.30" y1="287.60" x2="250.50" y2="287.60" stroke="#111" stroke-width="1.1"/>
<text x="243.70" y="289.94" font-size="6.6" text-anchor="end" font-weight="normal" fill="#1e1e1e" textLength="7.00" lengthAdjust="spacingAndGlyphs" stroke="#1e1e1e" stroke-width="0.12">20</text>
<line x1="247.30" y1="302.50" x2="250.50" y2="302.50" stroke="#111" stroke-width="1.1"/>
<text x="243.70" y="304.84" font-size="6.6" text-anchor="end" font-weight="normal" fill="#1e1e1e" textLength="3.50" lengthAdjust="spacingAndGlyphs" stroke="#1e1e1e" stroke-width="0.12">0</text>
<line x1="249.90" y1="306.50" x2="412.00" y2="306.50" stroke="#111" stroke-width="1.35"/>
<line x1="272.60" y1="306.50" x2="272.60" y2="309.30" stroke="#111" stroke-width="1.1"/>
<text x="272.60" y="318.00" font-size="6.6" text-anchor="middle" font-weight="normal" fill="#1e1e1e" textLength="3.50" lengthAdjust="spacingAndGlyphs" stroke="#1e1e1e" stroke-width="0.12">0</text>
<line x1="318.20" y1="306.50" x2="318.20" y2="309.30" stroke="#111" stroke-width="1.1"/>
<text x="318.20" y="318.00" font-size="6.6" text-anchor="middle" font-weight="normal" fill="#1e1e1e" textLength="7.00" lengthAdjust="spacingAndGlyphs" stroke="#1e1e1e" stroke-width="0.12">10</text>
<line x1="363.80" y1="306.50" x2="363.80" y2="309.30" stroke="#111" stroke-width="1.1"/>
<text x="363.80" y="318.00" font-size="6.6" text-anchor="middle" font-weight="normal" fill="#1e1e1e" textLength="7.00" lengthAdjust="spacingAndGlyphs" stroke="#1e1e1e" stroke-width="0.12">20</text>
<line x1="409.40" y1="306.50" x2="409.40" y2="309.30" stroke="#111" stroke-width="1.1"/>
<text x="409.40" y="318.00" font-size="6.6" text-anchor="middle" font-weight="normal" fill="#1e1e1e" textLength="7.00" lengthAdjust="spacingAndGlyphs" stroke="#1e1e1e" stroke-width="0.12">30</text>
<text x="331.20" y="330.20" font-size="8.4" text-anchor="middle" font-weight="normal" fill="#1e1e1e" textLength="72.00" lengthAdjust="spacingAndGlyphs" stroke="#1e1e1e" stroke-width="0.28">Month post-CTL019 infusion</text>
<text transform="translate(227.20,258.60) rotate(-90)" font-size="8.4" text-anchor="middle" font-weight="normal" fill="#1e1e1e" textLength="16.30" lengthAdjust="spacingAndGlyphs" stroke="#1e1e1e" stroke-width="0.28">mg/dL</text>
<polyline points="258.90,228.80 277.10,246.50 282.20,240.80 286.70,235.70 291.20,223.10 294.60,227.20 298.70,222.90 326.90,226.50 337.80,228.50 349.00,237.80 362.80,228.50 387.70,235.80" fill="none" stroke="#ab0c34" stroke-width="1.3" stroke-linejoin="round"/>
<circle cx="258.90" cy="228.80" r="1.5" fill="#fff" stroke="#ab0c34" stroke-width="1.1"/>
<circle cx="277.10" cy="246.50" r="1.5" fill="#fff" stroke="#ab0c34" stroke-width="1.1"/>
<circle cx="282.20" cy="240.80" r="1.5" fill="#fff" stroke="#ab0c34" stroke-width="1.1"/>
<circle cx="286.70" cy="235.70" r="1.5" fill="#fff" stroke="#ab0c34" stroke-width="1.1"/>
<circle cx="291.20" cy="223.10" r="1.5" fill="#fff" stroke="#ab0c34" stroke-width="1.1"/>
<circle cx="294.60" cy="227.20" r="1.5" fill="#fff" stroke="#ab0c34" stroke-width="1.1"/>
<circle cx="298.70" cy="222.90" r="1.5" fill="#fff" stroke="#ab0c34" stroke-width="1.1"/>
<circle cx="326.90" cy="226.50" r="1.5" fill="#fff" stroke="#ab0c34" stroke-width="1.1"/>
<circle cx="337.80" cy="228.50" r="1.5" fill="#fff" stroke="#ab0c34" stroke-width="1.1"/>
<circle cx="349.00" cy="237.80" r="1.5" fill="#fff" stroke="#ab0c34" stroke-width="1.1"/>
<circle cx="362.80" cy="228.50" r="1.5" fill="#fff" stroke="#ab0c34" stroke-width="1.1"/>
<circle cx="387.70" cy="235.80" r="1.5" fill="#fff" stroke="#ab0c34" stroke-width="1.1"/>
<polyline points="258.90,272.70 277.10,284.00 282.20,279.30 286.70,281.70 291.20,278.80 294.60,282.50 298.70,276.60 326.90,278.60 337.80,280.50 349.00,282.10 362.80,280.50 387.70,278.20" fill="none" stroke="#5ba63a" stroke-width="1.1" stroke-linejoin="round"/>
<polygon points="258.90,271.04 257.30,273.81 260.50,273.81" fill="#5ba63a"/>
<polygon points="277.10,282.34 275.50,285.11 278.70,285.11" fill="#5ba63a"/>
<polygon points="282.20,277.64 280.60,280.41 283.80,280.41" fill="#5ba63a"/>
<polygon points="286.70,280.04 285.10,282.81 288.30,282.81" fill="#5ba63a"/>
<polygon points="291.20,277.14 289.60,279.91 292.80,279.91" fill="#5ba63a"/>
<polygon points="294.60,280.84 293.00,283.61 296.20,283.61" fill="#5ba63a"/>
<polygon points="298.70,274.94 297.10,277.71 300.30,277.71" fill="#5ba63a"/>
<polygon points="326.90,276.94 325.30,279.71 328.50,279.71" fill="#5ba63a"/>
<polygon points="337.80,278.84 336.20,281.61 339.40,281.61" fill="#5ba63a"/>
<polygon points="349.00,280.44 347.40,283.21 350.60,283.21" fill="#5ba63a"/>
<polygon points="362.80,278.84 361.20,281.61 364.40,281.61" fill="#5ba63a"/>
<polygon points="387.70,276.54 386.10,279.31 389.30,279.31" fill="#5ba63a"/>
<polyline points="258.90,283.00 277.10,296.60 282.20,294.90 286.70,296.70 291.20,295.00 294.60,296.00 298.70,294.30 326.90,295.70 337.80,295.70 349.00,297.30 362.80,296.40 387.70,302.40" fill="none" stroke="#1f4386" stroke-width="1.2" stroke-linejoin="round"/>
<rect x="257.50" y="281.60" width="2.8" height="2.8" fill="#1f4386"/>
<rect x="275.70" y="295.20" width="2.8" height="2.8" fill="#1f4386"/>
<rect x="280.80" y="293.50" width="2.8" height="2.8" fill="#1f4386"/>
<rect x="285.30" y="295.30" width="2.8" height="2.8" fill="#1f4386"/>
<rect x="289.80" y="293.60" width="2.8" height="2.8" fill="#1f4386"/>
<rect x="293.20" y="294.60" width="2.8" height="2.8" fill="#1f4386"/>
<rect x="297.30" y="292.90" width="2.8" height="2.8" fill="#1f4386"/>
<rect x="325.50" y="294.30" width="2.8" height="2.8" fill="#1f4386"/>
<rect x="336.40" y="294.30" width="2.8" height="2.8" fill="#1f4386"/>
<rect x="347.60" y="295.90" width="2.8" height="2.8" fill="#1f4386"/>
<rect x="361.40" y="295.00" width="2.8" height="2.8" fill="#1f4386"/>
<rect x="386.30" y="301.00" width="2.8" height="2.8" fill="#1f4386"/>
<text x="399.80" y="238.00" font-size="7.6" text-anchor="start" font-weight="normal" fill="#1e1e1e" textLength="12.10" lengthAdjust="spacingAndGlyphs" stroke="#1e1e1e" stroke-width="0.1">IgG</text>
<text x="400.00" y="279.60" font-size="7.6" text-anchor="start" font-weight="normal" fill="#1e1e1e" textLength="11.00" lengthAdjust="spacingAndGlyphs" stroke="#1e1e1e" stroke-width="0.1">IgA</text>
<text x="400.00" y="304.20" font-size="7.6" text-anchor="start" font-weight="normal" fill="#1e1e1e" textLength="12.00" lengthAdjust="spacingAndGlyphs" stroke="#1e1e1e" stroke-width="0.1">IgM</text>
</svg>
</body></html>
